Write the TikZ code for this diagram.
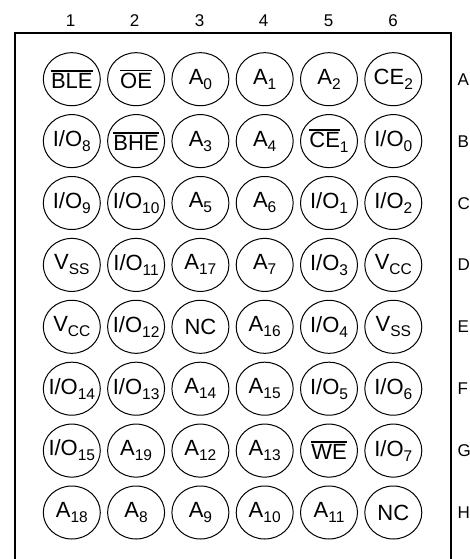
\documentclass[tikz,border=0pt]{standalone}
\usepackage{fontspec}
\setmainfont{Liberation Sans}
\usetikzlibrary{shapes.geometric}

\newsavebox{\barbox}
\newcommand{\pinsub}[1]{\raisebox{-5pt}{\fontsize{15.5}{16}\selectfont #1}}
\newcommand{\pinbar}[1]{\sbox{\barbox}{#1}\rlap{\raisebox{\dimexpr\ht\barbox+1.5pt\relax}{\rule{\wd\barbox}{1.6pt}}}\usebox{\barbox}}

\begin{document}
\begin{tikzpicture}[x=1pt, y=-1pt,
    ball/.style={ellipse, draw, line width=1pt, minimum width=57pt, minimum height=53pt, inner sep=0pt, inner xsep=-9pt, font=\fontsize{22}{26}\selectfont},
    colnum/.style={anchor=base, inner sep=0pt, font=\fontsize{17}{20}\selectfont},
    rowlbl/.style={anchor=base west, inner sep=0pt, font=\fontsize{17}{20}\selectfont}]
      \useasboundingbox (0,0) rectangle (469,559);
      \clip (0,0) rectangle (469,559);

      % Package outline
      \draw[line width=2pt] (15,33) rectangle (450.5,580);

      % Column numbers
      \node[colnum] (n1) at (70.5,26.7) {1};
      \node[colnum] (n2) at (134.5,26.7) {2};
      \node[colnum] (n3) at (199.5,26.7) {3};
      \node[colnum] (n4) at (263.5,26.7) {4};
      \node[colnum] (n5) at (328.5,26.7) {5};
      \node[colnum] (n6) at (393.0,26.7) {6};

      % Row letters
      \node[rowlbl] (ra) at (457.5,85.2) {A};
      \node[rowlbl] (rb) at (457.5,147.1) {B};
      \node[rowlbl] (rc) at (457.5,209.0) {C};
      \node[rowlbl] (rd) at (457.5,270.9) {D};
      \node[rowlbl] (re) at (457.5,332.8) {E};
      \node[rowlbl] (rf) at (457.5,394.7) {F};
      \node[rowlbl] (rg) at (457.5,456.6) {G};
      \node[rowlbl] (rh) at (457.5,518.5) {H};

      % Row A
      \node[ball] (a1) at (71.8,79.2) {\pinbar{BLE}};
      \node[ball] (a2) at (136.1,79.2) {\pinbar{OE}};
      \node[ball] (a3) at (200.4,79.2) {A\pinsub{0}};
      \node[ball] (a4) at (264.7,79.2) {A\pinsub{1}};
      \node[ball] (a5) at (329.0,79.2) {A\pinsub{2}};
      \node[ball] (a6) at (393.3,79.2) {CE\pinsub{2}};

      % Row B
      \node[ball] (b1) at (71.8,141.1) {I/O\pinsub{8}};
      \node[ball] (b2) at (136.1,141.1) {\pinbar{BHE}};
      \node[ball] (b3) at (200.4,141.1) {A\pinsub{3}};
      \node[ball] (b4) at (264.7,141.1) {A\pinsub{4}};
      \node[ball] (b5) at (329.0,141.1) {\pinbar{CE}\pinsub{1}};
      \node[ball] (b6) at (393.3,141.1) {I/O\pinsub{0}};

      % Row C
      \node[ball] (c1) at (71.8,203.0) {I/O\pinsub{9}};
      \node[ball] (c2) at (136.1,203.0) {I/O\pinsub{10}};
      \node[ball] (c3) at (200.4,203.0) {A\pinsub{5}};
      \node[ball] (c4) at (264.7,203.0) {A\pinsub{6}};
      \node[ball] (c5) at (329.0,203.0) {I/O\pinsub{1}};
      \node[ball] (c6) at (393.3,203.0) {I/O\pinsub{2}};

      % Row D
      \node[ball] (d1) at (71.8,264.9) {V\pinsub{SS}};
      \node[ball] (d2) at (136.1,264.9) {I/O\pinsub{11}};
      \node[ball] (d3) at (200.4,264.9) {A\pinsub{17}};
      \node[ball] (d4) at (264.7,264.9) {A\pinsub{7}};
      \node[ball] (d5) at (329.0,264.9) {I/O\pinsub{3}};
      \node[ball] (d6) at (393.3,264.9) {V\pinsub{CC}};

      % Row E
      \node[ball] (e1) at (71.8,326.8) {V\pinsub{CC}};
      \node[ball] (e2) at (136.1,326.8) {I/O\pinsub{12}};
      \node[ball] (e3) at (200.4,326.8) {NC};
      \node[ball] (e4) at (264.7,326.8) {A\pinsub{16}};
      \node[ball] (e5) at (329.0,326.8) {I/O\pinsub{4}};
      \node[ball] (e6) at (393.3,326.8) {V\pinsub{SS}};

      % Row F
      \node[ball] (f1) at (71.8,388.7) {I/O\pinsub{14}};
      \node[ball] (f2) at (136.1,388.7) {I/O\pinsub{13}};
      \node[ball] (f3) at (200.4,388.7) {A\pinsub{14}};
      \node[ball] (f4) at (264.7,388.7) {A\pinsub{15}};
      \node[ball] (f5) at (329.0,388.7) {I/O\pinsub{5}};
      \node[ball] (f6) at (393.3,388.7) {I/O\pinsub{6}};

      % Row G
      \node[ball] (g1) at (71.8,450.6) {I/O\pinsub{15}};
      \node[ball] (g2) at (136.1,450.6) {A\pinsub{19}};
      \node[ball] (g3) at (200.4,450.6) {A\pinsub{12}};
      \node[ball] (g4) at (264.7,450.6) {A\pinsub{13}};
      \node[ball] (g5) at (329.0,450.6) {\pinbar{WE}};
      \node[ball] (g6) at (393.3,450.6) {I/O\pinsub{7}};

      % Row H
      \node[ball] (h1) at (71.8,512.5) {A\pinsub{18}};
      \node[ball] (h2) at (136.1,512.5) {A\pinsub{8}};
      \node[ball] (h3) at (200.4,512.5) {A\pinsub{9}};
      \node[ball] (h4) at (264.7,512.5) {A\pinsub{10}};
      \node[ball] (h5) at (329.0,512.5) {A\pinsub{11}};
      \node[ball] (h6) at (393.3,512.5) {NC};

    \end{tikzpicture}
\end{document}
